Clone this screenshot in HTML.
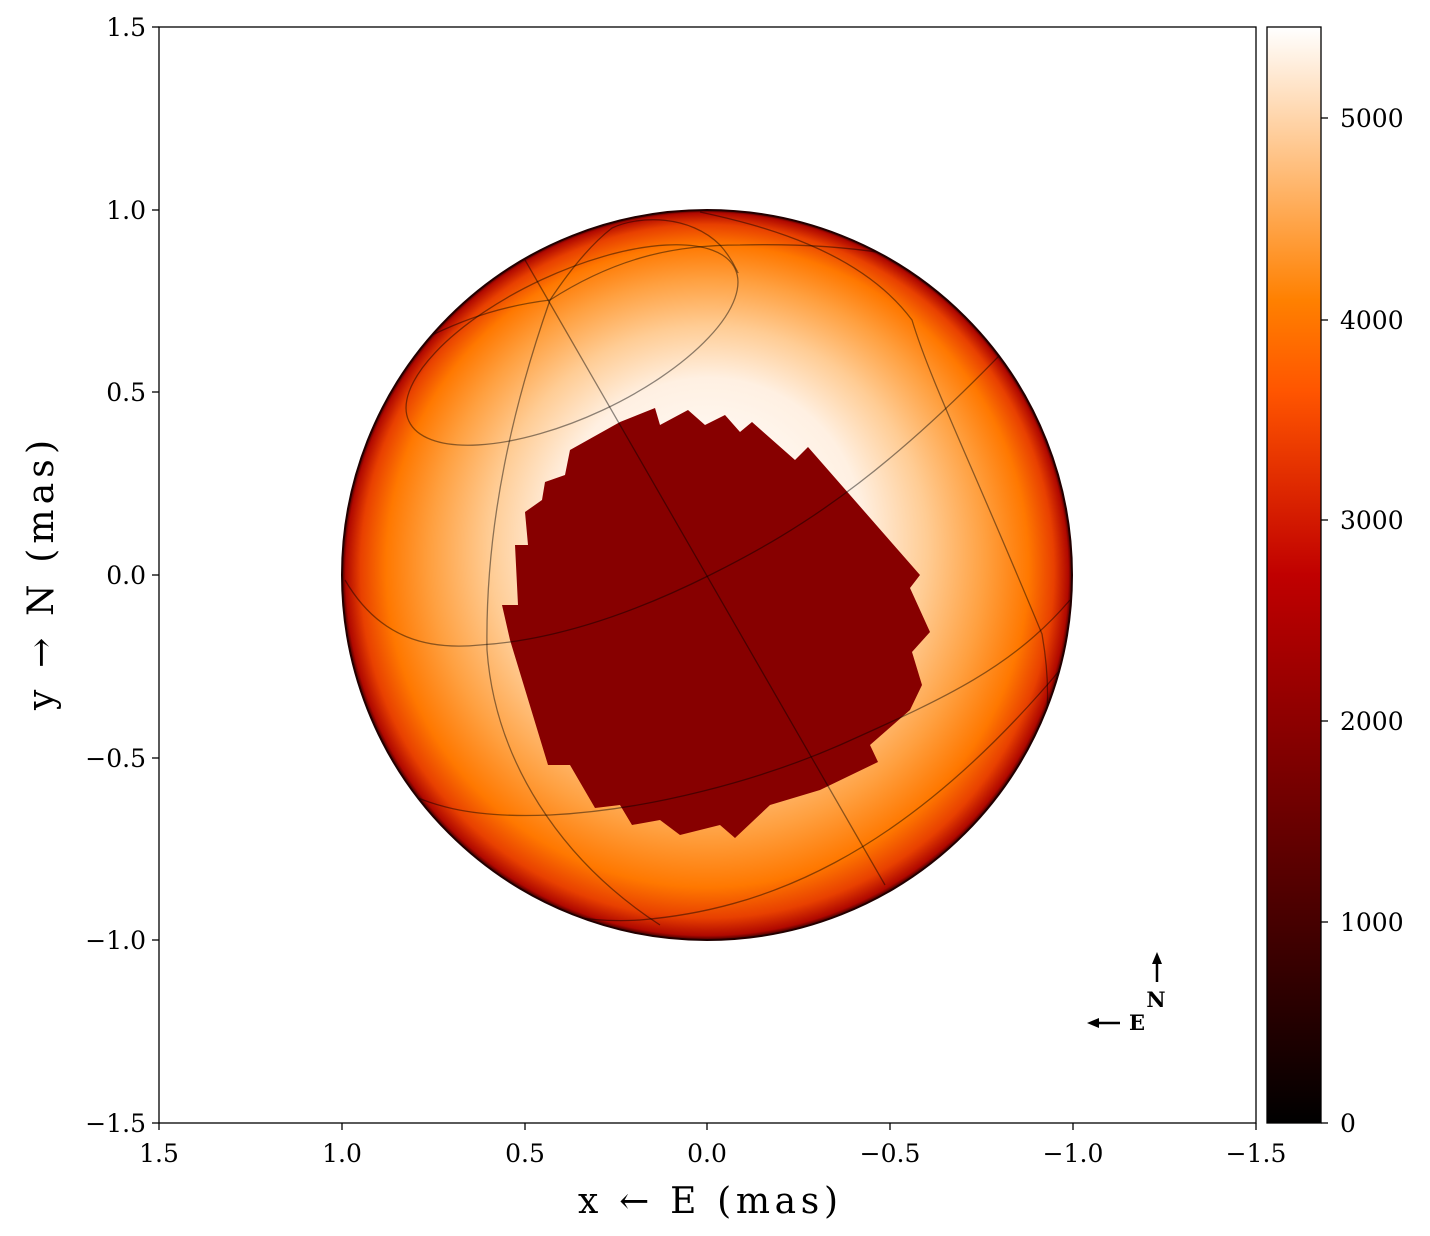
<!DOCTYPE html>
<html><head><meta charset="utf-8"><style>body{margin:0;background:#fff}svg{display:block}text{font-family:"DejaVu Serif","Liberation Serif",serif}</style></head>
<body>
<svg width="1430" height="1236" viewBox="0 0 1430 1236" xmlns="http://www.w3.org/2000/svg">
<defs>
<radialGradient id="star" cx="707" cy="575" r="365" fx="710" fy="500" gradientUnits="userSpaceOnUse">
<stop offset="0" stop-color="#ffffff"/>
<stop offset="0.42" stop-color="#fff0e2"/>
<stop offset="0.6" stop-color="#ffcc94"/>
<stop offset="0.76" stop-color="#ffa040"/>
<stop offset="0.88" stop-color="#ff7800"/>
<stop offset="0.95" stop-color="#e84000"/>
<stop offset="0.99" stop-color="#b00800"/>
<stop offset="1" stop-color="#400000"/>
</radialGradient>
<linearGradient id="cb" x1="0" y1="1" x2="0" y2="0">
<stop offset="0" stop-color="#000"/>
<stop offset="0.333" stop-color="#800000"/>
<stop offset="0.5" stop-color="#c00000"/>
<stop offset="0.667" stop-color="#ff5500"/>
<stop offset="0.75" stop-color="#ff8000"/>
<stop offset="0.875" stop-color="#ffc080"/>
<stop offset="1" stop-color="#fff"/>
</linearGradient>
<clipPath id="cc"><circle cx="707" cy="575" r="365"/></clipPath>
</defs>
<circle cx="707" cy="575" r="365" fill="url(#star)"/>
<g clip-path="url(#cc)">
<polygon fill="#870000" points="620,422 655,408 660,425 688,410 705,425 725,415 740,432 752,422 795,460 808,447 920,575 910,588 930,632 912,652 922,685 910,710 870,745 878,762 820,790 770,805 735,838 720,825 680,835 660,820 632,825 620,805 595,808 570,765 548,765 510,640 502,605 518,605 515,545 528,545 525,512 542,500 545,482 565,475 570,450"/>
<g fill="none" stroke="#000" stroke-opacity="0.45" stroke-width="1.3">
<line x1="525" y1="260" x2="885" y2="885"/>
<ellipse cx="572" cy="345" rx="180" ry="72" transform="rotate(-25 572 345)"/>
<path d="M345,580 C380,640 430,650 480,645 C560,640 640,610 710,575 C800,530 900,470 1060,290"/>
<path d="M370,770 C420,810 480,818 550,815 C650,810 760,780 840,745 C940,700 1010,670 1070,600"/>
<path d="M416,343 C470,315 510,305 550,300 C620,255 680,245 740,245 C820,243 880,250 930,262 C990,285 1030,315 1060,360"/>
<path d="M550,300 C515,400 485,520 487,650 C495,760 560,860 660,925"/>
<path d="M550,300 C570,270 590,245 612,228 C640,215 690,215 720,245 C735,262 738,275 738,272"/>
<path d="M700,212 C760,225 860,250 912,320 C930,380 970,460 1042,634 C1050,680 1048,710 1045,730"/>
<path d="M400,830 C480,900 560,925 640,920 C760,910 900,860 1060,670"/>
</g>
</g>
<circle cx="707" cy="575" r="365" fill="none" stroke="#200" stroke-width="2"/>
<rect x="159" y="27" width="1097" height="1096" fill="none" stroke="#000" stroke-width="1.3"/>
<g stroke="#000" stroke-width="1.3">
<line x1="159" y1="1123" x2="159" y2="1130"/><line x1="342" y1="1123" x2="342" y2="1130"/><line x1="525" y1="1123" x2="525" y2="1130"/><line x1="707" y1="1123" x2="707" y2="1130"/><line x1="890" y1="1123" x2="890" y2="1130"/><line x1="1073" y1="1123" x2="1073" y2="1130"/><line x1="1256" y1="1123" x2="1256" y2="1130"/>
<line x1="152" y1="27" x2="159" y2="27"/><line x1="152" y1="210" x2="159" y2="210"/><line x1="152" y1="392" x2="159" y2="392"/><line x1="152" y1="575" x2="159" y2="575"/><line x1="152" y1="758" x2="159" y2="758"/><line x1="152" y1="940" x2="159" y2="940"/><line x1="152" y1="1123" x2="159" y2="1123"/>
</g>
<g font-size="25" text-anchor="middle">
<text x="159" y="1162">1.5</text><text x="342" y="1162">1.0</text><text x="525" y="1162">0.5</text><text x="707" y="1162">0.0</text><text x="890" y="1162">−0.5</text><text x="1073" y="1162">−1.0</text><text x="1256" y="1162">−1.5</text>
</g>
<g font-size="25" text-anchor="end">
<text x="146" y="36">1.5</text><text x="146" y="219">1.0</text><text x="146" y="401">0.5</text><text x="146" y="584">0.0</text><text x="146" y="767">−0.5</text><text x="146" y="949">−1.0</text><text x="146" y="1132">−1.5</text>
</g>
<text x="708" y="1213" font-size="36" text-anchor="middle" textLength="260" lengthAdjust="spacing">x ← E (mas)</text>
<text transform="translate(53 575) rotate(-90)" font-size="36" text-anchor="middle" textLength="270" lengthAdjust="spacing">y → N (mas)</text>
<g stroke="#000" stroke-width="2.5"><line x1="1157" y1="982" x2="1157" y2="962"/><line x1="1120" y1="1023" x2="1098" y2="1023"/></g>
<polygon points="1157,952 1152,964 1162,964" fill="#000"/>
<polygon points="1087,1023 1099,1018 1099,1028" fill="#000"/>
<text x="1156" y="1007" font-size="21" font-weight="bold" text-anchor="middle">N</text>
<text x="1137" y="1030" font-size="21" font-weight="bold" text-anchor="middle">E</text>
<rect x="1267" y="27" width="54" height="1096" fill="url(#cb)" stroke="#000" stroke-width="1.3"/>
<g stroke="#000" stroke-width="1.3">
<line x1="1321" y1="1123" x2="1328" y2="1123"/><line x1="1321" y1="922" x2="1328" y2="922"/><line x1="1321" y1="721" x2="1328" y2="721"/><line x1="1321" y1="520" x2="1328" y2="520"/><line x1="1321" y1="320" x2="1328" y2="320"/><line x1="1321" y1="118" x2="1328" y2="118"/>
</g>
<g font-size="25">
<text x="1340" y="1132">0</text><text x="1340" y="931">1000</text><text x="1340" y="730">2000</text><text x="1340" y="529">3000</text><text x="1340" y="329">4000</text><text x="1340" y="127">5000</text>
</g>
</svg>
</body></html>
